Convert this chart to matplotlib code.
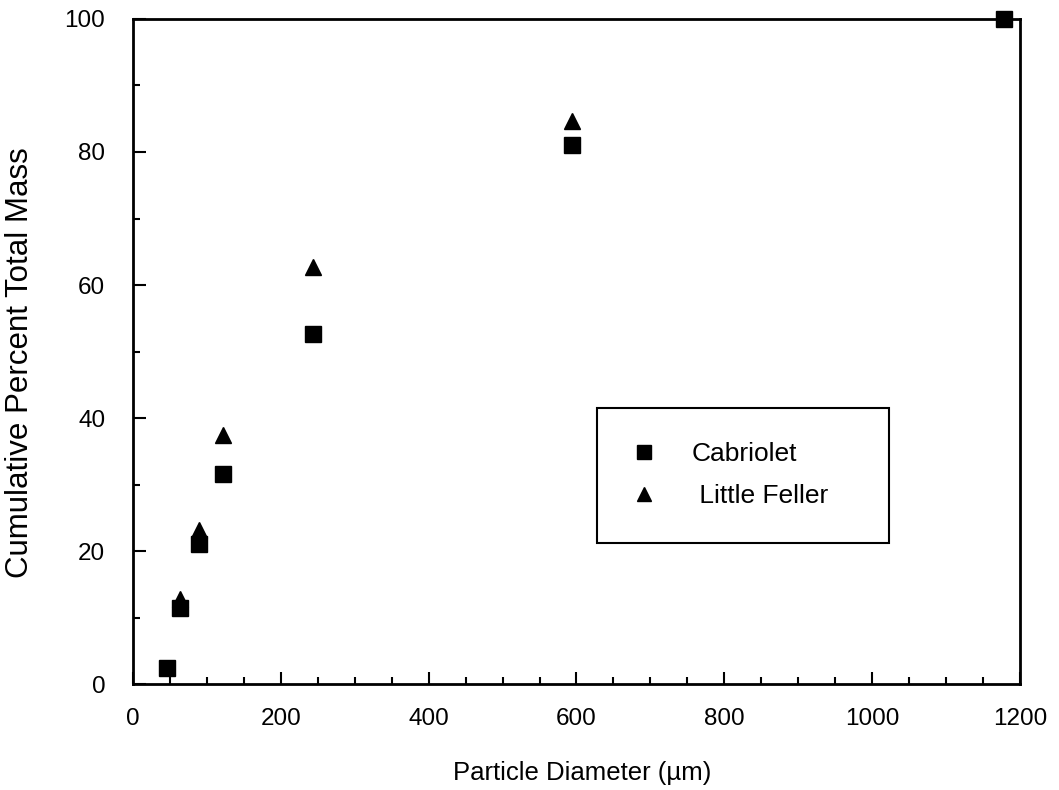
import numpy as np
import matplotlib
matplotlib.use('Agg')
import matplotlib.pyplot as plt
from matplotlib.ticker import MultipleLocator

plt.rcParams['font.family'] = ['Liberation Sans', 'DejaVu Sans']

# 粒径 (um) 与累计质量百分比
cab_x = [46, 63, 89, 122, 244, 594, 1178]
cab_y = [2.4, 11.4, 21.1, 31.6, 52.7, 81.1, 100.0]
lf_x = [63, 89, 122, 244, 594]
lf_y = [12.8, 23.1, 37.4, 62.7, 84.7]

fig = plt.figure(figsize=(10.59, 7.90), dpi=100)
ax = fig.add_axes([0.1256, 0.134, 0.8375, 0.842])

ax.plot(cab_x, cab_y, 's', color='black', markersize=12, label='Cabriolet', clip_on=False)
ax.plot(lf_x, lf_y, '^', color='black', markersize=12, label=' Little Feller', clip_on=False)

ax.set_xlim(0, 1200)
ax.set_ylim(0, 100)
ax.xaxis.set_major_locator(MultipleLocator(200))
ax.xaxis.set_minor_locator(MultipleLocator(50))
ax.yaxis.set_major_locator(MultipleLocator(20))
ax.yaxis.set_minor_locator(MultipleLocator(10))
ax.tick_params(which='major', direction='in', length=9, width=1.5, labelsize=17.5)
ax.tick_params(axis='x', which='major', pad=17)
ax.tick_params(axis='y', which='major', pad=20)
ax.tick_params(which='minor', direction='in', length=5, width=1.5)
for s in ax.spines.values():
    s.set_linewidth(2)

ax.set_xlabel('Particle Diameter (µm)', fontsize=18.5)
ax.set_ylabel('Cumulative Percent Total Mass', fontsize=22.5)
ax.xaxis.set_label_coords(0.507, -0.115)
ax.yaxis.set_label_coords(-0.11, 0.484)

leg = ax.legend(loc='upper left', bbox_to_anchor=(0.523, 0.415, 0.329, 0.0), mode='expand',
                borderaxespad=0, fontsize=19, markerscale=0.8, handlelength=1.0,
                handletextpad=1.3, borderpad=1.3, labelspacing=0.68,
                fancybox=False, framealpha=1, edgecolor='black')
leg.get_frame().set_linewidth(1.5)

plt.savefig('out.png', dpi=100)
